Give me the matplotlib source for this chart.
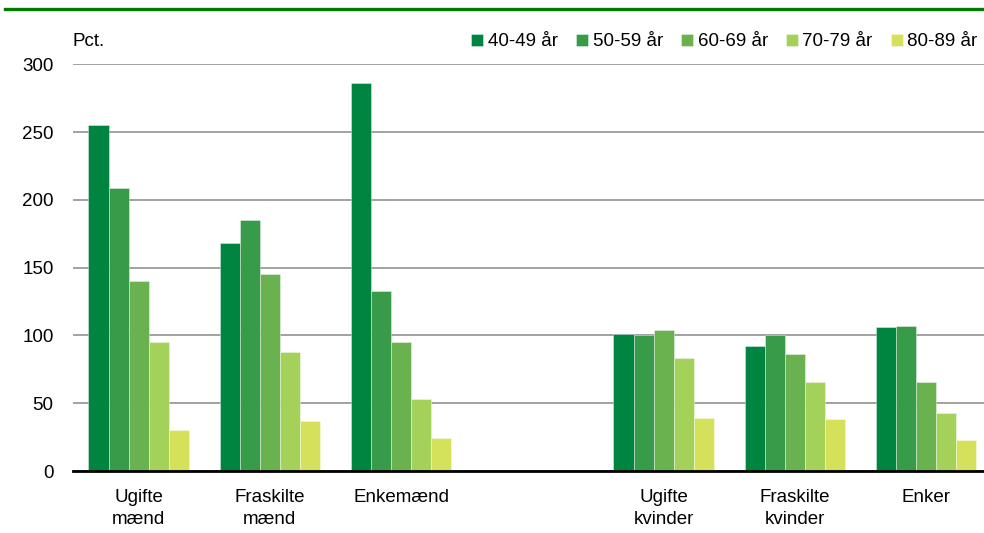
import numpy as np
import matplotlib
matplotlib.use("Agg")
import matplotlib.pyplot as plt
from matplotlib.lines import Line2D

plt.rcParams['font.family'] = ['Liberation Sans', 'DejaVu Sans']

categories = ["Ugifte\nmænd", "Fraskilte\nmænd", "Enkemænd", "",
              "Ugifte\nkvinder", "Fraskilte\nkvinder", "Enker"]
series_names = ["40-49 år", "50-59 år", "60-69 år", "70-79 år", "80-89 år"]
v_40_49 = [255, 168, 286, np.nan, 101, 92, 106]
v_50_59 = [209, 185, 133, np.nan, 100, 100, 107]
v_60_69 = [140, 145, 95, np.nan, 104, 86, 66]
v_70_79 = [95, 88, 53, np.nan, 83, 66, 43]
v_80_89 = [30, 37, 24, np.nan, 39, 38, 23]
series = [v_40_49, v_50_59, v_60_69, v_70_79, v_80_89]
colors = ["#008540", "#379B4A", "#6AB150", "#A3D15A", "#D6E15B"]
yticks = [0, 50, 100, 150, 200, 250, 300]

FS = 13.5
W, H = 984, 533
fig = plt.figure(figsize=(W / 100, H / 100), dpi=100)
ax = fig.add_axes([73 / W, 62 / H, (W - 73) / W, (471 - 64.3) / H])

x = np.arange(len(categories))
bw = 0.153
n = len(series)
for i, (vals, name, c) in enumerate(zip(series, series_names, colors)):
    off = (i - (n - 1) / 2) * bw
    ax.bar(x + off, vals, width=bw, color=c, label=name,
           edgecolor=(1, 1, 1, 0.45), linewidth=0.6, zorder=3)

ax.set_ylim(0, 300)
ax.set_xlim(-0.5, (W - 73) / 131.25 - 0.5)
ax.set_yticks(yticks)
ax.set_yticklabels([str(t) for t in yticks], fontsize=FS)
ax.set_xticks(x)
ax.set_xticklabels(categories, fontsize=FS, linespacing=1.4)
ax.tick_params(axis='both', length=0, colors='black')
ax.tick_params(axis='y', pad=14)
ax.tick_params(axis='x', pad=13)
ax.yaxis.grid(True, color="#9A9A9A", linewidth=1.3, zorder=0)
ax.set_axisbelow(True)
for s in ['top', 'right', 'left']:
    ax.spines[s].set_visible(False)
ax.spines['bottom'].set_color('black')
ax.spines['bottom'].set_linewidth(2.0)
ax.spines['bottom'].set_zorder(4)

fig.text(72 / W, (H - 42) / H, "Pct.", fontsize=FS, ha='left', va='center')

leg = fig.legend(loc='center left', bbox_to_anchor=(471 / W, (H - 42) / H),
                 ncol=5, frameon=False, fontsize=FS, handlelength=0.65,
                 handleheight=0.65, handletextpad=0.25, columnspacing=0.95,
                 borderpad=0, borderaxespad=0)

fig.add_artist(Line2D([5 / W, 1.0], [(H - 8.5) / H, (H - 8.5) / H],
                      transform=fig.transFigure, color="#007A00", linewidth=2.4))

fig.savefig("out.png", dpi=100)
